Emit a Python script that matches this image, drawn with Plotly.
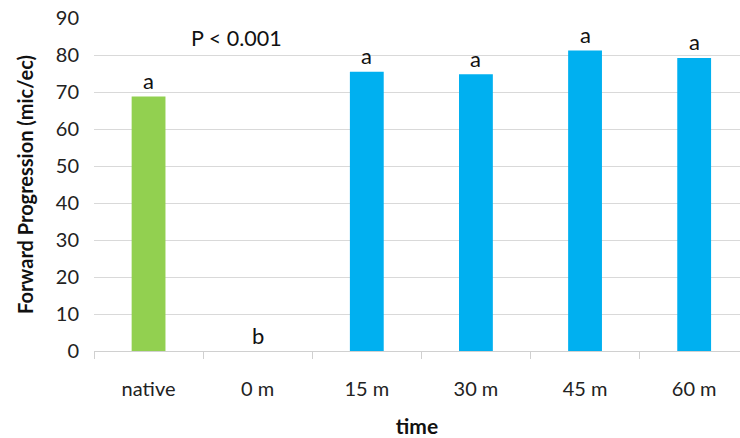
import plotly.graph_objects as go

# Forward progression by time after treatment
categories = ["native", "0 m", "15 m", "30 m", "45 m", "60 m"]
values = [68.8, 0, 75.5, 74.8, 81.2, 79.2]
letters = ["a", "b", "a", "a", "a", "a"]
colors = ["#92D050", "#00B0F0", "#00B0F0", "#00B0F0", "#00B0F0", "#00B0F0"]
y_ticks = [0, 10, 20, 30, 40, 50, 60, 70, 80, 90]

FONT = "Lato, 'Open Sans', sans-serif"

fig = go.Figure(
    go.Bar(
        x=categories,
        y=values,
        marker=dict(color=colors, line=dict(width=0)),
        width=0.31,
        hoverinfo="x+y",
    )
)

# significance letters above each bar
for cat, val, letter in zip(categories, values, letters):
    fig.add_annotation(
        x=cat, y=val, text=letter, showarrow=False,
        yanchor="middle", yshift=16,
        font=dict(family=FONT, size=22, color="#111111"),
    )

fig.add_annotation(
    x=0.81, y=84.7, text="P < 0.001", showarrow=False,
    xanchor="center", yanchor="middle",
    font=dict(family=FONT, size=21.5, color="#111111"),
)

fig.update_layout(
    width=740, height=438,
    margin=dict(l=94, r=0, t=18, b=87),
    paper_bgcolor="white",
    plot_bgcolor="white",
    showlegend=False,
    font=dict(family=FONT, color="#222222"),
)

fig.update_xaxes(
    range=[-0.5, 5.42],
    showgrid=False,
    showline=True, linecolor="#d0d0d0", linewidth=1,
    ticks="outside", tickson="boundaries", ticklen=7, tickcolor="#d0d0d0",
    tickfont=dict(family=FONT, size=20, color="#222222"),
    ticklabelstandoff=20,
    title=dict(text="<b>time</b>", font=dict(family=FONT, size=21, color="#111111"), standoff=22),
)

fig.update_yaxes(
    range=[0, 90],
    tickvals=y_ticks,
    showgrid=True, gridcolor="#d9d9d9", gridwidth=1,
    showline=False, zeroline=False,
    ticks="", ticklabelstandoff=14,
    tickfont=dict(family=FONT, size=20, color="#222222"),
    title=dict(text="<b>Forward Progression (mic/ec)</b>",
               font=dict(family=FONT, size=20, color="#111111"), standoff=16),
)

fig.write_html("out.html")
